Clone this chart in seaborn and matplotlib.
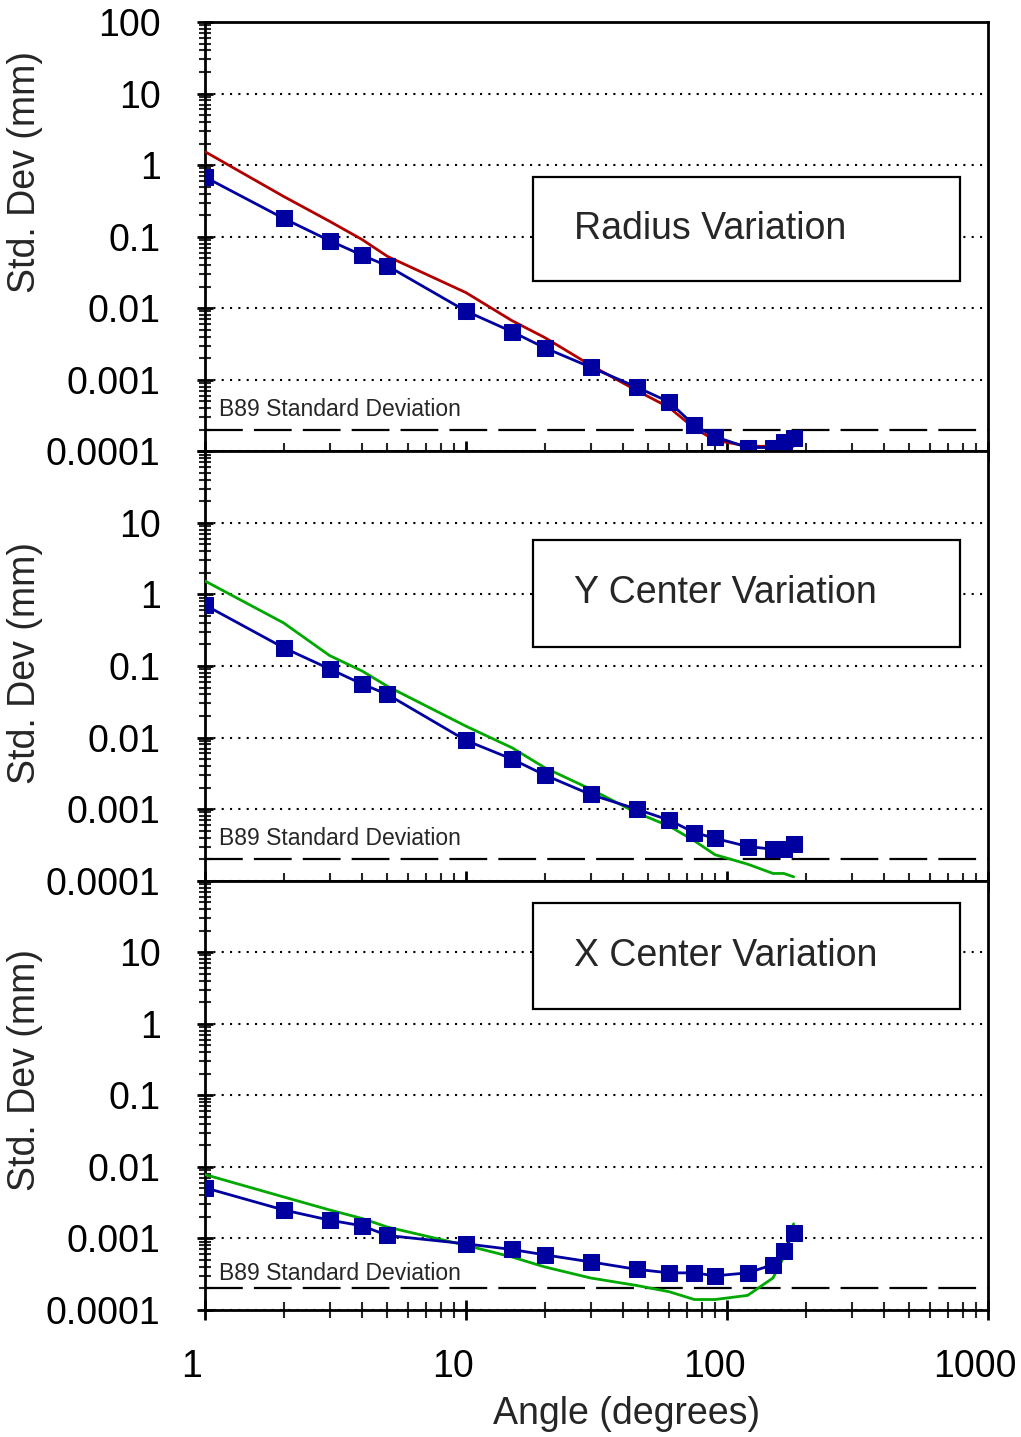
import matplotlib
matplotlib.use('Agg')
import matplotlib.pyplot as plt
import matplotlib.transforms as mtransforms
from matplotlib.patches import Rectangle
from matplotlib.ticker import FixedLocator, FixedFormatter, LogLocator, NullFormatter
import numpy as np
import pandas as pd
import seaborn as sns

sns.set_style('white')
plt.rcParams['font.family'] = ['Liberation Sans', 'DejaVu Sans']

# 角度 (degrees)
angle = [1, 2, 3, 4, 5, 10, 15, 20, 30, 45, 60, 75, 90, 120, 150, 165, 180]

# 测量值 (蓝色方块)
radius_meas = [0.68, 0.18, 0.088, 0.055, 0.039, 0.0091, 0.0047, 0.0028, 0.0015,
               0.00079, 0.00049, 0.00023, 0.00016, 0.000113, 0.000113, 0.000135, 0.000155]
ycen_meas = [0.71, 0.18, 0.091, 0.056, 0.040, 0.0091, 0.0050, 0.0030, 0.0016,
             0.0010, 0.00070, 0.00047, 0.00039, 0.00030, 0.000275, 0.000275, 0.00032]
xcen_meas = [0.0051, 0.0025, 0.0018, 0.0015, 0.0011, 0.00084, 0.00070, 0.00059, 0.00047,
             0.00037, 0.00033, 0.00033, 0.00030, 0.00033, 0.00043, 0.00066, 0.0012]

# 理论曲线 (红/绿)
radius_model = [1.54, 0.365, 0.164, 0.091, 0.053, 0.0165, 0.0067, 0.0039, 0.0016,
                0.00071, 0.00041, 0.00021, 0.000143, 0.000118, 0.000117, 0.000117, 0.000118]
ycen_model = [1.54, 0.40, 0.14, 0.085, 0.052, 0.0144, 0.0072, 0.0038, 0.0019,
              0.00089, 0.00058, 0.00036, 0.00023, 0.00017, 0.000126, 0.000126, 0.000113]
xcen_model = [0.0078, 0.0038, 0.0025, 0.0019, 0.00144, 0.00080, 0.00055, 0.00040, 0.00028,
              0.00022, 0.00018, 0.00014, 0.00014, 0.00016, 0.00028, 0.00055, 0.0016]

b89_level = 0.0002
titles = ['Radius Variation', 'Y Center Variation', 'X Center Variation']
model_colors = ['#B00000', '#00A800', '#00A800']
meas = [radius_meas, ycen_meas, xcen_meas]
models = [radius_model, ycen_model, xcen_model]

y_ticks = [1e-4, 1e-3, 1e-2, 1e-1, 1, 10, 100]
y_labels = ['0.0001', '0.001', '0.01', '0.1', '1', '10', '100']
x_ticks = [1, 10, 100, 1000]
x_labels = ['1', '10', '100', '1000']

blue = '#0000A0'
fs = 27

fig, axes = plt.subplots(3, 1, figsize=(10.21, 14.37), dpi=100, sharex=True)
fig.subplots_adjust(left=0.2008, right=0.9677, top=0.9847, bottom=0.0884, hspace=0)

ylabel_y = [0.65, 0.508, 0.56]
box_y = [(0.396, 0.639), (0.545, 0.793), (0.702, 0.949)]
b89_y = [0.098, 0.098, 0.086]

for i, ax in enumerate(axes):
    df = pd.DataFrame({'angle': angle, 'meas': meas[i], 'model': models[i]})
    sns.lineplot(data=df, x='angle', y='model', ax=ax, color=model_colors[i],
                 lw=2, estimator=None, sort=False, zorder=3)
    sns.lineplot(data=df, x='angle', y='meas', ax=ax, color=blue, lw=2,
                 marker='s', markersize=12, markeredgecolor=blue, markerfacecolor=blue,
                 estimator=None, sort=False, zorder=4)
    ax.axhline(b89_level, color='black', lw=1.6, dashes=(17, 5), zorder=2)

    ax.set_xscale('log')
    ax.set_yscale('log')
    ax.set_xlim(1, 1000)
    ax.set_ylim(1e-4, 100)

    ax.yaxis.set_major_locator(FixedLocator(y_ticks))
    labels = list(y_labels)
    if i > 0:
        labels[-1] = ''
    ax.yaxis.set_major_formatter(FixedFormatter(labels))
    ax.yaxis.set_minor_locator(LogLocator(base=10, subs=np.arange(2, 10), numticks=100))
    ax.yaxis.set_minor_formatter(NullFormatter())
    ax.xaxis.set_major_locator(FixedLocator(x_ticks))
    ax.xaxis.set_major_formatter(FixedFormatter(x_labels))
    ax.xaxis.set_minor_locator(LogLocator(base=10, subs=np.arange(2, 10), numticks=100))
    ax.xaxis.set_minor_formatter(NullFormatter())

    ax.tick_params(axis='y', which='major', direction='inout', length=12, width=2,
                   labelsize=fs, pad=26, colors='black', left=True)
    ax.tick_params(axis='y', which='minor', direction='inout', length=8, width=1.5, left=True)
    ax.tick_params(axis='x', which='major', direction='inout', length=14, width=2,
                   labelsize=fs, pad=21, colors='black', bottom=True)
    ax.tick_params(axis='x', which='minor', direction='inout', length=12, width=1.5, bottom=True)

    ax.yaxis.grid(True, which='major', color='black', lw=1.5, ls=(0, (1, 3)))
    ax.xaxis.grid(False)
    for s in ax.spines.values():
        s.set_color('black')
        s.set_linewidth(2)

    ax.set_ylabel('Std. Dev (mm)', fontsize=fs)
    ax.yaxis.set_label_coords(-0.207, ylabel_y[i])
    ax.set_xlabel('')

    y0, y1 = box_y[i]
    ax.add_patch(Rectangle((0.419, y0), 0.545, y1 - y0, transform=ax.transAxes,
                           facecolor='white', edgecolor='black', lw=1.6, zorder=5))
    ax.text(0.471, (y0 + y1) / 2, titles[i], transform=ax.transAxes, fontsize=fs,
            ha='left', va='center', zorder=6)
    ax.text(0.018, b89_y[i], 'B89 Standard Deviation', transform=ax.transAxes,
            fontsize=16.5, ha='left', va='center', zorder=6)

ax = axes[-1]
ax.set_xlabel('Angle (degrees)', fontsize=fs)
ax.xaxis.set_label_coords(0.539, -0.2)
shift = mtransforms.ScaledTranslation(-13 / 100, 0, fig.dpi_scale_trans)
for lab in ax.get_xticklabels():
    lab.set_transform(lab.get_transform() + shift)

fig.savefig('out.png', dpi=100)
